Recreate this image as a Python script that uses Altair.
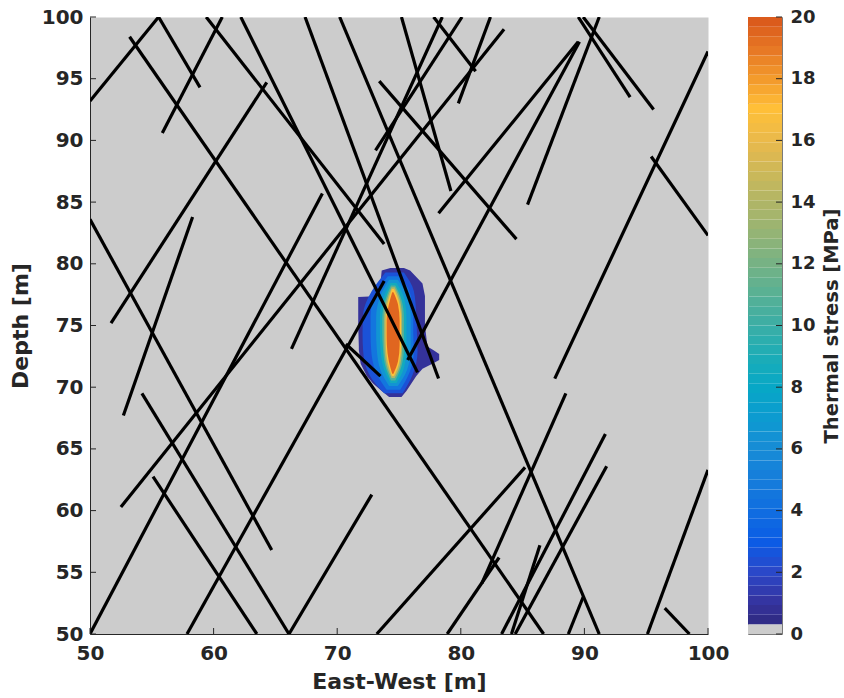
import altair as alt
import numpy as np
import pandas as pd

# Fracture traces (metres): start and end point of every segment
frac_x0 = [50.0, 55.55, 53.2, 55.85, 59.4, 62.2, 67.4, 70.2, 50.0, 51.7,
           52.7, 52.5, 54.2, 50.0, 57.85, 70.7, 66.3, 73.1, 73.4, 75.2,
           77.8, 82.4, 89.5, 89.9, 91.2, 89.5, 89.6, 100.0, 95.4, 88.5,
           91.7, 91.8, 85.2, 83.1, 86.4, 89.9, 100.0, 96.5, 55.1, 72.8]
frac_y0 = [93.2, 100.0, 98.4, 90.6, 100.0, 100.0, 100.0, 100.0, 83.6, 75.2,
           67.7, 60.3, 69.5, 50.0, 50.0, 73.5, 73.1, 89.2, 94.8, 100.0,
           100.0, 100.0, 100.0, 100.0, 100.0, 98.0, 98.0, 97.2, 88.7, 69.5,
           66.2, 63.6, 63.5, 56.2, 57.2, 53.0, 63.3, 52.1, 62.75, 61.3]
frac_x1 = [55.55, 58.9, 86.7, 60.7, 73.8, 76.5, 78.2, 91.2, 64.7, 64.3,
           58.3, 83.5, 66.1, 68.8, 73.8, 73.5, 78.5, 80.1, 84.5, 79.2,
           81.2, 79.8, 93.7, 95.6, 85.4, 78.2, 75.7, 87.6, 100.0, 81.7,
           83.3, 84.4, 73.2, 78.9, 84.1, 88.7, 95.1, 98.5, 63.5, 66.1]
frac_y1 = [100.0, 94.3, 50.0, 100.0, 81.6, 71.2, 70.7, 50.0, 56.8, 94.7,
           83.8, 99.0, 50.0, 85.7, 78.6, 70.9, 100.0, 100.0, 82.0, 85.9,
           95.6, 93.0, 93.5, 92.5, 84.8, 84.1, 72.2, 70.7, 82.3, 54.1,
           50.0, 50.0, 50.0, 50.0, 50.0, 50.0, 50.0, 50.0, 50.0, 50.0]

# Thermal stress contours around the heated zone: level value [MPa],
# depth samples and the west / east edge of the region above that level
stress_contours = [
    (0.9,
     [79.65, 79.45, 78.4, 77.4, 77.3, 75.0, 73.3, 73.0, 72.7, 72.2, 71.9, 71.5, 70.9, 70.3, 69.7, 69.2],
     [74.3, 73.6, 73.5, 73.45, 71.7, 71.7, 71.75, 71.75, 71.8, 71.85, 71.9, 72.1, 72.4, 72.9, 73.6, 74.2],
     [75.4, 75.9, 76.9, 77.1, 77.1, 77.1, 77.3, 77.8, 78.25, 78.25, 77.7, 76.9, 76.4, 76.0, 75.6, 75.2]),
    (2.5,
     [79.3, 77.8, 75.9, 74.4, 72.9, 71.0, 69.5],
     [73.9, 72.8, 72.1, 72.05, 72.1, 72.6, 73.8],
     [75.4, 76.2, 76.4, 76.45, 76.5, 76.1, 75.3]),
    (4.5,
     [79.0, 77.6, 75.8, 74.4, 73.0, 71.2, 69.8],
     [74.1, 73.15, 72.7, 72.7, 72.75, 73.15, 74.0],
     [75.1, 75.9, 76.15, 76.15, 76.2, 75.85, 75.1]),
    (6.5,
     [78.7, 77.4, 75.7, 74.4, 73.1, 71.4, 70.1],
     [74.2, 73.5, 73.15, 73.15, 73.2, 73.5, 74.2],
     [74.9, 75.65, 75.95, 75.95, 75.95, 75.65, 74.9]),
    (8.5,
     [78.45, 77.25, 75.65, 74.4, 73.15, 71.55, 70.35],
     [74.3, 73.75, 73.45, 73.45, 73.5, 73.75, 74.3],
     [74.8, 75.4, 75.6, 75.6, 75.6, 75.4, 74.8]),
    (11.0,
     [78.25, 77.1, 75.6, 74.4, 73.2, 71.7, 70.55],
     [74.35, 73.9, 73.65, 73.65, 73.7, 73.9, 74.35],
     [74.7, 75.2, 75.4, 75.4, 75.4, 75.2, 74.7]),
    (14.0,
     [78.1, 77.0, 75.55, 74.4, 73.25, 71.8, 70.75],
     [74.4, 74.0, 73.8, 73.8, 73.82, 74.0, 74.4],
     [74.65, 75.1, 75.25, 75.25, 75.25, 75.1, 74.65]),
    (17.0,
     [77.95, 76.9, 75.5, 74.4, 73.3, 71.95, 70.9],
     [74.42, 74.1, 73.92, 73.92, 73.94, 74.1, 74.42],
     [74.6, 75.0, 75.16, 75.16, 75.16, 75.0, 74.6]),
    (19.5,
     [77.7, 76.7, 75.4, 74.4, 73.4, 72.1, 71.1],
     [74.45, 74.18, 74.0, 74.0, 74.02, 74.18, 74.45],
     [74.55, 74.92, 75.05, 75.05, 75.05, 74.92, 74.55]),
]

x_ticks = [50, 60, 70, 80, 90, 100]
y_ticks = [50, 55, 60, 65, 70, 75, 80, 85, 90, 95, 100]
cbar_ticks = [0, 2, 4, 6, 8, 10, 12, 14, 16, 18, 20]

# Colour map: grey below the first level, then blue -> cyan -> yellow -> orange
stress_domain = [0, 0.31, 0.32, 1, 2, 3, 4, 5, 6, 7, 8, 9, 10, 11, 12, 13,
                 14, 15, 16, 17, 18, 19, 20]
stress_colors = ["#cccccc", "#cccccc", "#2e2a80", "#35339e", "#2b47c8",
                 "#0b5ce6", "#106ee0", "#167ddb", "#178cd6", "#0c9bd0",
                 "#07a7c6", "#1cadb6", "#3baea6", "#57b195", "#76b284",
                 "#95b474", "#b1b566", "#cdb858", "#eab94b", "#ffc038",
                 "#f39a2c", "#e67624", "#d9561b"]
color_scale = alt.Scale(domain=stress_domain, range=stress_colors,
                        interpolate="rgb")

INK = "#262626"
W, H = 618, 617

x_scale = alt.Scale(domain=[50, 100], nice=False, zero=False)
y_scale = alt.Scale(domain=[50, 100], nice=False, zero=False)
x_axis = alt.Axis(values=x_ticks, title="East-West [m]", grid=False,
                  ticks=False, labelFlush=False, labelPadding=9,
                  titlePadding=8, domainColor=INK, domainWidth=1)
y_axis = alt.Axis(values=y_ticks, title="Depth [m]", grid=False,
                  ticks=False, labelFlush=False, labelPadding=7,
                  titlePadding=9, domainColor=INK, domainWidth=1)

layers = []
for i, (level, ys, west, east) in enumerate(stress_contours):
    df = pd.DataFrame({"depth": ys, "west": west, "east": east,
                       "stress": level})
    layers.append(
        alt.Chart(df).mark_area(
            orient="horizontal",
            interpolate="linear" if i == 0 else "monotone",
            clip=True,
        ).encode(
            y=alt.Y("depth:Q", scale=y_scale, axis=y_axis),
            x=alt.X("west:Q", scale=x_scale, axis=x_axis),
            x2="east:Q",
            color=alt.Color("stress:Q", scale=color_scale, legend=None),
        )
    )

fractures = pd.DataFrame({"x0": frac_x0, "y0": frac_y0,
                          "x1": frac_x1, "y1": frac_y1})
layers.append(
    alt.Chart(fractures).mark_rule(color="black", strokeWidth=3.2, clip=True)
    .encode(
        x=alt.X("x0:Q", scale=x_scale, axis=x_axis),
        y=alt.Y("y0:Q", scale=y_scale, axis=y_axis),
        x2="x1:Q",
        y2="y1:Q",
    )
)

# inward tick marks along the bottom and left edges
layers.append(
    alt.Chart(pd.DataFrame({"t": x_ticks})).mark_rule(color=INK, strokeWidth=1)
    .encode(x=alt.X("t:Q", scale=x_scale, axis=x_axis),
            y=alt.value(H), y2=alt.value(H - 6))
)
layers.append(
    alt.Chart(pd.DataFrame({"t": y_ticks})).mark_rule(color=INK, strokeWidth=1)
    .encode(y=alt.Y("t:Q", scale=y_scale, axis=y_axis),
            x=alt.value(0), x2=alt.value(6))
)

main = alt.layer(*layers).properties(
    width=W, height=H,
    view=alt.ViewBackground(fill="#cccccc", stroke="transparent"),
)

# colour bar: 64 discrete bands from 0 to 20 MPa
edges = np.linspace(0, 20, 65)
bands = pd.DataFrame({"lo": edges[:-1], "hi": edges[1:],
                      "mid": (edges[:-1] + edges[1:]) / 2})
cb_scale = alt.Scale(domain=[0, 20], nice=False, zero=False)
cb_axis = alt.Axis(values=cbar_ticks, orient="right", grid=False, ticks=False,
                   domain=False, labelFontSize=18, labelPadding=8,
                   title="Thermal stress [MPa]", titleFontSize=19.5,
                   titleAngle=270, titleBaseline="top", titlePadding=7)
CBW = 34
cbar_rects = alt.Chart(bands).mark_rect().encode(
    y=alt.Y("lo:Q", scale=cb_scale, axis=cb_axis),
    y2="hi:Q",
    x=alt.value(0), x2=alt.value(CBW),
    color=alt.Color("mid:Q", scale=color_scale, legend=None),
)
cbar_ticks_marks = alt.Chart(pd.DataFrame({"t": cbar_ticks})).mark_rule(
    color=INK, strokeWidth=1
).encode(
    y=alt.Y("t:Q", scale=cb_scale, axis=cb_axis),
    x=alt.value(CBW - 6), x2=alt.value(CBW),
)
cbar = alt.layer(cbar_rects, cbar_ticks_marks).properties(
    width=CBW, height=H,
    view=alt.ViewBackground(stroke="#7a7a7a", strokeWidth=1),
)

chart = alt.hconcat(main, cbar, spacing=40, bounds="flush").properties(
    padding={"left": 8, "top": 6, "right": 0, "bottom": 0}
).configure(
    font="DejaVu Sans"
).configure_axis(
    labelFont="DejaVu Sans", labelFontSize=20, labelFontWeight="bold",
    labelColor=INK, titleFont="DejaVu Sans", titleFontSize=22,
    titleFontWeight="bold", titleColor=INK,
)

chart.save("out.html", embed_options={"renderer": "svg", "actions": False})
